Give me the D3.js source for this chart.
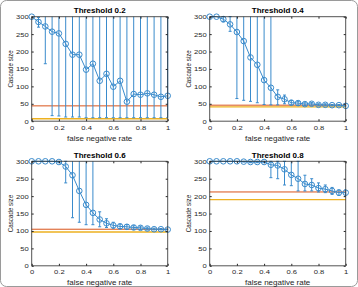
<!DOCTYPE html>
<html>
<head>
<meta charset="utf-8">
<script src="https://cdn.jsdelivr.net/npm/d3@7"></script>
<style>
  body { margin: 0; background: #fff; }
  svg { display: block; }
</style>
</head>
<body>
<svg id="chart" width="358" height="287" font-family="'Liberation Sans', Arial, sans-serif"></svg>
<script>
// false negative rate values (x axis)
const fnr = [0, 0.05, 0.1, 0.15, 0.2, 0.25, 0.3, 0.35, 0.4, 0.45, 0.5,
             0.55, 0.6, 0.65, 0.7, 0.75, 0.8, 0.85, 0.9, 0.95, 1];
const xTicks = [0, 0.2, 0.4, 0.6, 0.8, 1];
const yTicks = [0, 50, 100, 150, 200, 250, 300];

// Threshold 0.2
const mean02  = [300, 285, 272, 257, 252, 222, 191, 191, 148, 165, 116, 136, 99, 116, 56, 78, 76, 80, 76, 70, 73];
const lower02 = [300, 270, 165, 16, 15, 12, 12, 12, 10, 10, 10, 10, 10, 10, 10, 10, 10, 10, 10, 10, 10];
const upper02 = [300, 298, 380, 400, 400, 400, 400, 400, 400, 400, 400, 400, 400, 400, 400, 400, 400, 400, 400, 400, 400];
const ref02 = [44, 7];

// Threshold 0.4
const mean04  = [300, 300, 293, 278, 256, 230, 183, 162, 118, 96, 70, 63, 53, 52, 49, 50, 47, 47, 46, 46, 44];
const lower04 = [300, 300, 285, 258, 65, 60, 57, 53, 48, 47, 47, 50, 47, 46, 45, 46, 44, 44, 44, 44, 43];
const upper04 = [300, 300, 300, 300, 400, 400, 400, 400, 400, 400, 90, 75, 60, 57, 53, 54, 50, 50, 48, 48, 46];
const ref04 = [46, 41];

// Threshold 0.6
const mean06  = [300, 300, 300, 300, 298, 285, 260, 215, 175, 152, 133, 122, 116, 113, 112, 110, 109, 107, 105, 105, 104];
const lower06 = [300, 300, 300, 300, 296, 238, 138, 125, 118, 118, 112, 110, 108, 107, 105, 105, 104, 103, 103, 103, 103];
const upper06 = [300, 300, 300, 300, 300, 300, 400, 400, 400, 400, 155, 135, 125, 120, 118, 115, 114, 111, 108, 107, 106];
const ref06 = [105, 97];

// Threshold 0.8
const mean08  = [300, 300, 300, 300, 300, 299, 298, 298, 298, 290, 288, 277, 261, 250, 235, 232, 223, 220, 215, 210, 210];
const lower08 = [300, 300, 300, 300, 300, 298, 296, 296, 296, 253, 250, 232, 230, 215, 215, 215, 212, 210, 205, 202, 200];
const upper08 = [300, 300, 300, 300, 300, 300, 300, 300, 300, 300, 300, 300, 320, 300, 260, 250, 238, 232, 225, 218, 218];
const ref08 = [212, 190];

const panels = [
  { title: 'Threshold 0.2', mean: mean02, lo: lower02, hi: upper02, ref: ref02, x: 31.7, y: 16.7 },
  { title: 'Threshold 0.4', mean: mean04, lo: lower04, hi: upper04, ref: ref04, x: 209.7, y: 16.7 },
  { title: 'Threshold 0.6', mean: mean06, lo: lower06, hi: upper06, ref: ref06, x: 31.7, y: 161.3 },
  { title: 'Threshold 0.8', mean: mean08, lo: lower08, hi: upper08, ref: ref08, x: 209.7, y: 161.3 }
];

const svg = d3.select('#chart');
const innerWidth = 136;
const innerHeight = 104.5;
const blue = '#3a8bcc';
const refColors = ['#d95319', '#edb120'];
const squash = 0.82; // the picture is a little flatter than wide, text too

// rounded outer frame, drawn as a path
function roundedFrame(x, y, w, h, r) {
  const pth = d3.path();
  pth.moveTo(x + r, y);
  pth.lineTo(x + w - r, y);
  pth.arcTo(x + w, y, x + w, y + r, r);
  pth.lineTo(x + w, y + h - r);
  pth.arcTo(x + w, y + h, x + w - r, y + h, r);
  pth.lineTo(x + r, y + h);
  pth.arcTo(x, y + h, x, y + h - r, r);
  pth.lineTo(x, y + r);
  pth.arcTo(x, y, x + r, y, r);
  pth.closePath();
  return pth.toString();
}
svg.append('path')
  .attr('d', roundedFrame(0.5, 0.5, 357, 286, 6))
  .style('fill', 'none')
  .style('stroke', '#9a9a9a');

panels.forEach((p, i) => drawPanel(p, i));

function drawPanel(p, i) {
  const xScale = d3.scaleLinear().domain([0, 1]).range([0, innerWidth]);
  const yScale = d3.scaleLinear().domain([0, 300]).range([innerHeight, 0]);

  const g = svg.append('g')
    .attr('transform', `translate(${p.x},${p.y})`);

  const pts = fnr.map((x, k) => ({ x: x, m: p.mean[k], lo: Math.max(p.lo[k], 0), hi: Math.min(p.hi[k], 300), clip: p.hi[k] > 300 }));

  // reference lines
  p.ref.forEach((v, k) => {
    g.append('line')
      .attr('x1', 0).attr('x2', innerWidth)
      .attr('y1', yScale(v)).attr('y2', yScale(v))
      .style('stroke', refColors[k])
      .style('stroke-width', k === 1 ? 1.3 : 1);
  });

  // error bars (upper ends beyond the axis are cut at 300, no cap there)
  const bars = g.selectAll('.bar').data(pts.filter(d => d.hi - d.lo > 0)).enter().append('g');
  bars.append('line')
    .attr('x1', d => xScale(d.x)).attr('x2', d => xScale(d.x))
    .attr('y1', d => yScale(d.lo)).attr('y2', d => yScale(d.hi))
    .style('stroke', blue).style('stroke-width', 1);
  bars.append('line')
    .attr('x1', d => Math.max(0, xScale(d.x) - 1.5)).attr('x2', d => Math.min(innerWidth, xScale(d.x) + 1.5))
    .attr('y1', d => yScale(d.lo)).attr('y2', d => yScale(d.lo))
    .style('stroke', blue).style('stroke-width', 1);
  bars.filter(d => !d.clip).append('line')
    .attr('x1', d => Math.max(0, xScale(d.x) - 1.5)).attr('x2', d => Math.min(innerWidth, xScale(d.x) + 1.5))
    .attr('y1', d => yScale(d.hi)).attr('y2', d => yScale(d.hi))
    .style('stroke', blue).style('stroke-width', 1);

  const line = d3.line().x(d => xScale(d.x)).y(d => yScale(d.m));
  g.append('path')
    .datum(pts)
    .attr('d', line)
    .style('fill', 'none')
    .style('stroke', blue)
    .style('stroke-width', 1);

  g.selectAll('circle').data(pts).enter().append('circle')
    .attr('cx', d => xScale(d.x)).attr('cy', d => yScale(d.m))
    .attr('r', 2.8)
    .style('fill', 'none')
    .style('stroke', blue)
    .style('stroke-width', 1);

  // axes box
  g.append('path')
    .attr('d', `M0,0H${innerWidth}V${innerHeight}H0Z`)
    .style('fill', 'none').style('stroke', '#262626').style('stroke-width', 0.8);

  const xAxis = g.append('g')
    .attr('transform', `translate(0,${innerHeight})`)
    .call(d3.axisBottom(xScale).tickValues(xTicks).tickSize(-2).tickPadding(5).tickFormat(d3.format('')));
  const yAxis = g.append('g')
    .call(d3.axisLeft(yScale).tickValues(yTicks).tickSize(-2).tickPadding(3));
  [xAxis, yAxis].forEach(a => {
    a.attr('font-family', null).attr('font-size', 7.6);
    a.select('.domain').remove();
    a.selectAll('text').attr('fill', '#262626').attr('transform', `scale(1,${squash})`);
  });

  // mirrored ticks on the right and top edges, no labels
  g.append('g').attr('transform', `translate(${innerWidth},0)`)
    .call(d3.axisRight(yScale).tickValues(yTicks).tickSize(-2))
    .call(a => a.select('.domain').remove())
    .call(a => a.selectAll('text').remove());
  g.append('g')
    .call(d3.axisTop(xScale).tickValues(xTicks).tickSize(-2))
    .call(a => a.select('.domain').remove())
    .call(a => a.selectAll('text').remove());
  g.selectAll('.tick line').style('stroke', '#262626');

  g.append('text')
    .attr('transform', `translate(${innerWidth / 2},-3.5) scale(1,${squash})`)
    .attr('text-anchor', 'middle')
    .attr('font-size', 8).attr('font-weight', 'bold')
    .attr('fill', '#000')
    .text(p.title);

  g.append('text')
    .attr('transform', `translate(${innerWidth / 2},${innerHeight + 19.5}) scale(1,${squash})`)
    .attr('text-anchor', 'middle')
    .attr('font-size', 8)
    .attr('fill', '#262626')
    .text('false negative rate');

  g.append('text')
    .attr('transform', `translate(-19,${innerHeight / 2}) rotate(-90) scale(${squash * 0.95},1)`)
    .attr('text-anchor', 'middle')
    .attr('font-size', 8)
    .attr('fill', '#262626')
    .text('Cascade size');
}
</script>
</body>
</html>
